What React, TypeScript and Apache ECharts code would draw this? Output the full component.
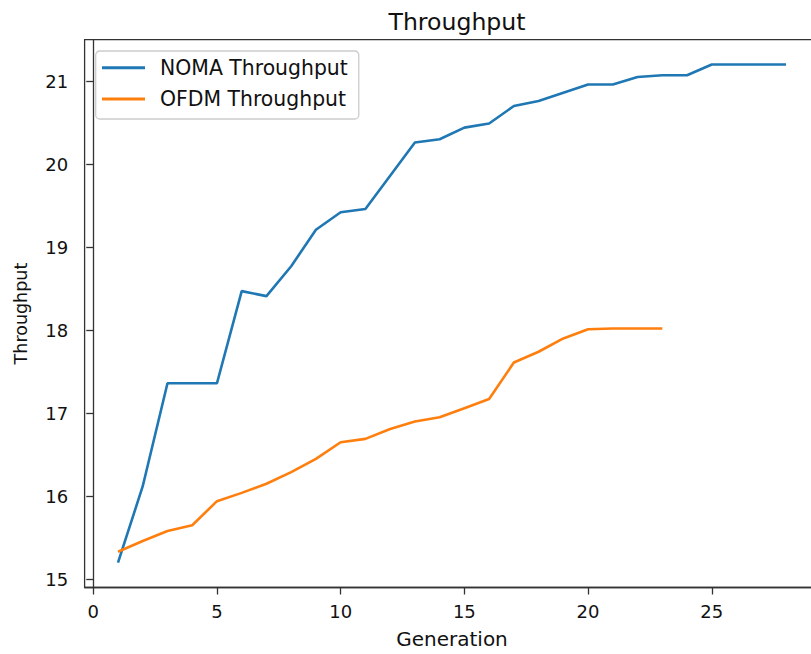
import React, { useEffect, useRef } from "react";
import * as echarts from "echarts";

// Generation index for each run
const nomaGenerations = [1, 2, 3, 4, 5, 6, 7, 8, 9, 10, 11, 12, 13, 14, 15, 16, 17, 18, 19, 20, 21, 22, 23, 24, 25, 26, 27, 28];
const ofdmGenerations = [1, 2, 3, 4, 5, 6, 7, 8, 9, 10, 11, 12, 13, 14, 15, 16, 17, 18, 19, 20, 21, 22, 23];

// Best throughput per generation
const nomaThroughput = [
  15.2, 16.12, 17.36, 17.36, 17.36, 18.47, 18.41, 18.77, 19.21, 19.42, 19.46, 19.86, 20.26, 20.3,
  20.44, 20.49, 20.7, 20.76, 20.86, 20.96, 20.96, 21.05, 21.07, 21.07, 21.2, 21.2, 21.2, 21.2,
];
const ofdmThroughput = [
  15.33, 15.46, 15.58, 15.65, 15.94, 16.04, 16.15, 16.29, 16.45, 16.65, 16.69, 16.81, 16.9, 16.95,
  17.06, 17.17, 17.61, 17.74, 17.9, 18.01, 18.02, 18.02, 18.02,
];

// Tick positions
const xTicks = [0, 5, 10, 15, 20, 25];
const yTicks = [15, 16, 17, 18, 19, 20, 21];

const FONT = "DejaVu Sans";
const BLUE = "#1f77b4";
const ORANGE = "#ff7f0e";
const INK = "#111111";
const SPINE = "#333333";

// The drawing surface is wider than the visible frame; the right edge of the axes is cut off.
const VIEW_W = 811;
const VIEW_H = 654;
const CANVAS_W = 830;

// 5% padding on each side of the data range
function paddedRange(values: number[]): [number, number] {
  const lo = Math.min(...values);
  const hi = Math.max(...values);
  const pad = (hi - lo) * 0.05;
  return [lo - pad, hi + pad];
}

export default function App() {
  const ref = useRef<HTMLDivElement>(null);

  useEffect(() => {
    if (!ref.current) return;
    const chart = echarts.init(ref.current, undefined, { renderer: "svg" });

    const [xMin, xMax] = paddedRange([...nomaGenerations, ...ofdmGenerations]);
    const [yMin, yMax] = paddedRange([...nomaThroughput, ...ofdmThroughput]);

    chart.setOption({
      animation: false,
      backgroundColor: "#ffffff",
      title: {
        text: "Throughput",
        left: 452,
        top: 5,
        textAlign: "center",
        textStyle: { fontFamily: FONT, fontSize: 23.6, fontWeight: "normal", color: INK, lineHeight: 24 },
      },
      legend: {
        orient: "vertical",
        left: 95.7,
        top: 51,
        icon: "rect",
        itemWidth: 43,
        itemHeight: 3,
        itemGap: 9.3,
        padding: [5.7, 11, 9, 6.3],
        backgroundColor: "rgba(255,255,255,0.8)",
        borderColor: "#cccccc",
        borderWidth: 1.3,
        borderRadius: 4,
        selectedMode: false,
        textStyle: {
          fontFamily: FONT,
          fontSize: 20.4,
          lineHeight: 22,
          color: INK,
          padding: [0, 0, 0, 10],
        },
        data: ["NOMA Throughput", "OFDM Throughput"],
      },
      grid: {
        left: 84.6,
        right: CANVAS_W - 819.4,
        top: 39.6,
        bottom: 66.4,
        show: true,
        borderColor: SPINE,
        borderWidth: 1.3,
        backgroundColor: "transparent",
      },
      xAxis: {
        type: "value",
        min: xMin,
        max: xMax,
        name: "Generation",
        nameLocation: "middle",
        nameGap: 41.5,
        nameTextStyle: { fontFamily: FONT, fontSize: 20, color: INK, lineHeight: 20 },
        axisLine: { show: true, lineStyle: { color: SPINE, width: 1.3 } },
        axisTick: { show: true, length: 7, customValues: xTicks, lineStyle: { color: SPINE, width: 1.3 } },
        axisLabel: {
          customValues: xTicks,
          margin: 15,
          fontFamily: FONT,
          fontSize: 18,
          color: INK,
          lineHeight: 18,
        },
        splitLine: { show: false },
      },
      yAxis: {
        type: "value",
        min: yMin,
        max: yMax,
        name: "Throughput",
        nameLocation: "middle",
        nameGap: 55,
        nameTextStyle: { fontFamily: FONT, fontSize: 17.5, color: INK, lineHeight: 18 },
        axisLine: { show: true, lineStyle: { color: SPINE, width: 1.3 } },
        axisTick: { show: true, length: 7, customValues: yTicks, lineStyle: { color: SPINE, width: 1.3 } },
        axisLabel: {
          customValues: yTicks,
          margin: 16.5,
          fontFamily: FONT,
          fontSize: 18,
          color: INK,
        },
        splitLine: { show: false },
      },
      series: [
        {
          name: "NOMA Throughput",
          type: "line",
          symbol: "none",
          color: BLUE,
          lineStyle: { color: BLUE, width: 2.6 },
          data: nomaGenerations.map((g, i) => [g, nomaThroughput[i]]),
        },
        {
          name: "OFDM Throughput",
          type: "line",
          symbol: "none",
          color: ORANGE,
          lineStyle: { color: ORANGE, width: 2.6 },
          data: ofdmGenerations.map((g, i) => [g, ofdmThroughput[i]]),
        },
      ],
    });

    return () => chart.dispose();
  }, []);

  return (
    <div
      style={{
        position: "fixed",
        left: 0,
        top: 0,
        width: VIEW_W,
        height: VIEW_H,
        background: "#ffffff",
        overflow: "hidden",
      }}
    >
      <div ref={ref} style={{ width: CANVAS_W, height: VIEW_H }} />
    </div>
  );
}
